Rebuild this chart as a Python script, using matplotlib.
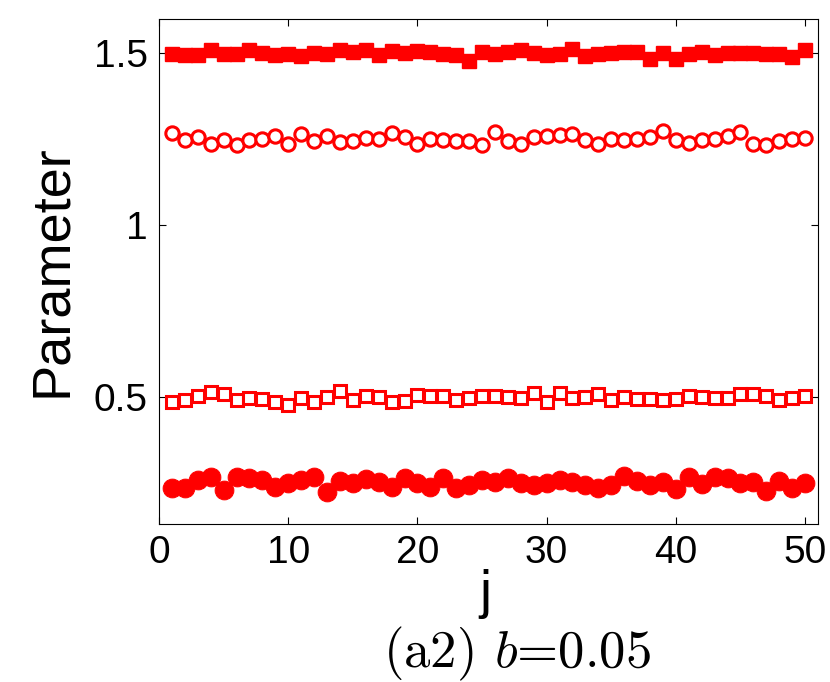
import matplotlib
matplotlib.use("Agg")
import matplotlib.pyplot as plt
import numpy as np

plt.rcParams['mathtext.fontset'] = 'cm'

j = np.arange(1, 51)

filled_sq = [1.498, 1.495, 1.495, 1.510, 1.496, 1.498, 1.510, 1.500, 1.493, 1.498,
             1.491, 1.501, 1.498, 1.508, 1.503, 1.508, 1.493, 1.506, 1.500, 1.507,
             1.503, 1.498, 1.493, 1.477, 1.503, 1.498, 1.503, 1.510, 1.500, 1.493,
             1.498, 1.512, 1.491, 1.498, 1.500, 1.503, 1.503, 1.483, 1.500, 1.482,
             1.498, 1.503, 1.493, 1.501, 1.501, 1.500, 1.498, 1.496, 1.488, 1.510]

open_circ = [1.267, 1.246, 1.257, 1.236, 1.248, 1.232, 1.248, 1.251, 1.258, 1.236,
             1.265, 1.243, 1.260, 1.240, 1.243, 1.253, 1.251, 1.267, 1.256, 1.236,
             1.249, 1.246, 1.244, 1.244, 1.232, 1.270, 1.244, 1.236, 1.256, 1.258,
             1.261, 1.264, 1.248, 1.236, 1.251, 1.246, 1.251, 1.256, 1.273, 1.246,
             1.239, 1.248, 1.251, 1.258, 1.270, 1.236, 1.232, 1.244, 1.251, 1.253]

open_sq = [0.485, 0.492, 0.502, 0.514, 0.508, 0.490, 0.497, 0.495, 0.485, 0.476,
           0.497, 0.484, 0.500, 0.517, 0.490, 0.502, 0.500, 0.485, 0.488, 0.505,
           0.502, 0.503, 0.490, 0.498, 0.502, 0.502, 0.500, 0.497, 0.512, 0.485,
           0.512, 0.497, 0.500, 0.507, 0.490, 0.500, 0.495, 0.495, 0.490, 0.495,
           0.502, 0.500, 0.497, 0.497, 0.508, 0.508, 0.502, 0.490, 0.498, 0.502]

filled_circ = [0.234, 0.234, 0.258, 0.267, 0.229, 0.266, 0.263, 0.258, 0.238, 0.250,
               0.258, 0.266, 0.224, 0.255, 0.248, 0.260, 0.253, 0.238, 0.263, 0.248,
               0.238, 0.263, 0.236, 0.243, 0.258, 0.253, 0.263, 0.248, 0.243, 0.250,
               0.258, 0.251, 0.243, 0.236, 0.243, 0.269, 0.256, 0.243, 0.253, 0.231,
               0.266, 0.245, 0.266, 0.263, 0.250, 0.253, 0.226, 0.256, 0.236, 0.250]

xticks = [0, 10, 20, 30, 40, 50]
yticks = [0.5, 1.0, 1.5]
yticklabels = ['0.5', '1', '1.5']

red = (1, 0, 0)
sans = 'Liberation Sans'

fig = plt.figure(figsize=(8.3, 6.82), dpi=100)
ax = fig.add_axes([159/830, 1 - 524/682, (818 - 159)/830, (524 - 18.7)/682])

ax.plot(j, filled_sq, linestyle='none', marker='s', ms=10.5, mew=1, color=red, mec=red, mfc=red)
ax.plot(j, open_circ, linestyle='none', marker='o', ms=9.6, mew=2.2, color=red, mec=red, mfc='white')
ax.plot(j, open_sq, linestyle='none', marker='s', ms=8.6, mew=2.2, color=red, mec=red, mfc='white')
ax.plot(j, filled_circ, linestyle='none', marker='o', ms=13.5, mew=0.7, color=red, mec=red, mfc=red)

ax.set_xlim(0, 51)
ax.set_ylim(0.13, 1.6)
ax.set_xticks(xticks)
ax.set_xticklabels([str(t) for t in xticks], fontfamily=sans, fontsize=28)
ax.set_yticks(yticks)
ax.set_yticklabels(yticklabels, fontfamily=sans, fontsize=28)
ax.tick_params(direction='in', length=5, width=0.8, top=True, right=True, pad=8)
for s in ax.spines.values():
    s.set_linewidth(0.8)

fig.text(52/830, 1 - 271/682, 'Parameter', rotation=90, ha='center', va='center',
         fontfamily=sans, fontsize=39)
fig.text(485/830, 1 - 594/682, 'j', ha='center', va='center', fontfamily=sans, fontsize=39)
fig.text(517/830, 1 - 667/682, r'(a2) $b$=0.05', ha='center', va='baseline',
         fontfamily='cmr10', fontsize=38)

fig.savefig('out.png', dpi=100)
